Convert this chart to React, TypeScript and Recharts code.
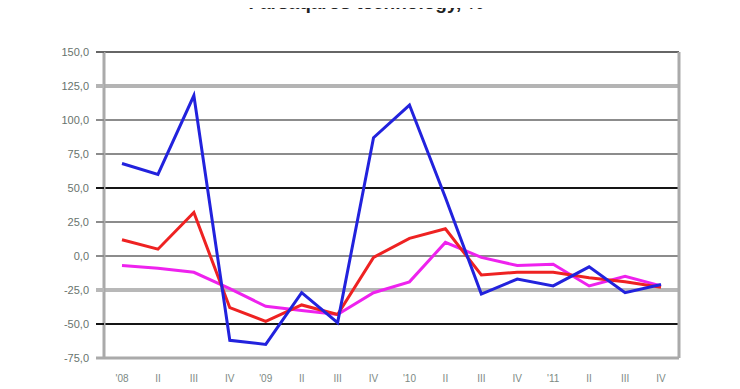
import React from "react";
import { LineChart, Line, XAxis, YAxis, ReferenceLine } from "recharts";

const categories = ["'08", "II", "III", "IV", "'09", "II", "III", "IV", "'10", "II", "III", "IV", "'11", "II", "III", "IV"];
const blueSeries = [68, 60, 118, -62, -65, -27, -49, 87, 111, 43, -28, -17, -22, -8, -27, -21];
const redSeries = [12, 5, 32, -38, -48, -36, -43, -1, 13, 20, -14, -12, -12, -16, -19, -23];
const magentaSeries = [-7, -9, -12, -24, -37, -40, -43, -27, -19, 10, -1, -7, -6, -22, -15, -22];
const yTicks = [150, 125, 100, 75, 50, 25, 0, -25, -50, -75];
const titleText = "Farsaqaros technology, %";

const gridStyle: Record<number, { stroke: string; w: number }> = {
  150: { stroke: "#666666", w: 2 },
  125: { stroke: "#b4b4b4", w: 4 },
  100: { stroke: "#8c8c8c", w: 2 },
  75: { stroke: "#8c8c8c", w: 2 },
  50: { stroke: "#151515", w: 2 },
  25: { stroke: "#8c8c8c", w: 2 },
  0: { stroke: "#8c8c8c", w: 2 },
  "-25": { stroke: "#b8b8b8", w: 4 },
  "-50": { stroke: "#151515", w: 2 },
  "-75": { stroke: "#aaaaaa", w: 3 },
};

const data = categories.map((c, i) => ({
  cat: c + "_" + i,
  label: c,
  blue: blueSeries[i],
  red: redSeries[i],
  magenta: magentaSeries[i],
}));

const fmt = (v: number) => v.toFixed(1).replace(".", ",");

const YTick = (props: any) => {
  const { y, payload } = props;
  const s = gridStyle[payload.value] || { stroke: "#888", w: 2 };
  return (
    <g>
      <line x1={96} x2={104} y1={y} y2={y} stroke={s.stroke} strokeWidth={s.w} />
      <text x={89} y={y} dy={4} textAnchor="end" fontSize={11} fill="#68736d" fontFamily="Arial, Liberation Sans, sans-serif">
        {fmt(payload.value)}
      </text>
    </g>
  );
};

const XTick = (props: any) => {
  const { x, y, index } = props;
  return (
    <text x={x} y={y} dy={4} textAnchor="middle" fontSize={10} fill="#7d8a84" fontFamily="Arial, Liberation Sans, sans-serif">
      {categories[index]}
    </text>
  );
};

export default function App() {
  return (
    <div style={{ position: "relative", margin: "-8px 0 0 -8px", width: 740, height: 389, overflow: "hidden", background: "#fff" }}>
      <LineChart width={740} height={389} data={data} margin={{ top: 52, right: 60, bottom: 0, left: 0 }}>
        <XAxis
          dataKey="cat"
          axisLine={false}
          tickLine={false}
          tick={<XTick />}
          height={31}
          tickMargin={20}
          tickSize={0}
          interval={0}
          padding={{ left: 18, right: 18 }}
        />
        <YAxis
          yAxisId="left"
          domain={[-75, 150]}
          ticks={yTicks}
          width={104}
          axisLine={{ stroke: "#aaaaaa", strokeWidth: 3 }}
          tickLine={false}
          tick={<YTick />}
          interval={0}
        />
        <YAxis yAxisId="right" orientation="right" domain={[-75, 150]} width={1} tick={false} axisLine={{ stroke: "#aaaaaa", strokeWidth: 3 }} tickLine={false} />
        {yTicks.map((t) => (
          <ReferenceLine key={t} yAxisId="left" y={t} stroke={gridStyle[t].stroke} strokeWidth={gridStyle[t].w} />
        ))}
        <Line yAxisId="left" type="linear" dataKey="magenta" stroke="#ee22ee" strokeWidth={3} dot={false} isAnimationActive={false} />
        <Line yAxisId="left" type="linear" dataKey="red" stroke="#ee2222" strokeWidth={3} dot={false} isAnimationActive={false} />
        <Line yAxisId="left" type="linear" dataKey="blue" stroke="#2222dd" strokeWidth={3} dot={false} isAnimationActive={false} />
      </LineChart>
      <svg width={740} height={24} style={{ position: "absolute", top: 0, left: 0 }}>
        <text x={366} y={9} textAnchor="middle" fontSize={19} fontWeight="bold" fill="#222" fontFamily="Arial, Liberation Sans, sans-serif">
          {titleText}
        </text>
      </svg>
    </div>
  );
}
